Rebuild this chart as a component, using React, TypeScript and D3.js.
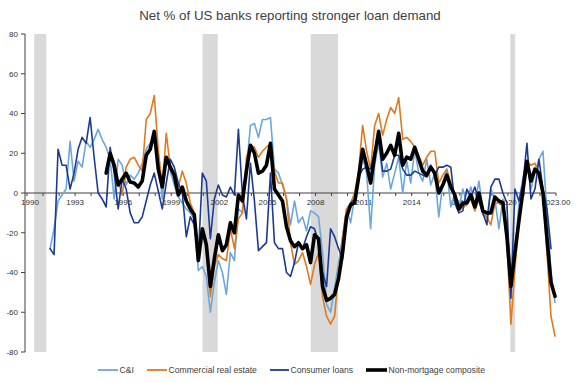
import React from "react";
import * as d3 from "d3";

const TITLE = "Net % of US banks reporting stronger loan demand";
const seriesNames = ["C&I", "Commercial real estate", "Consumer loans", "Non-mortgage composite"];
const seriesColors = ["#6AA8DC", "#E07A1F", "#1C3A94", "#000000"];
const yTickValues = [-80, -60, -40, -20, 0, 20, 40, 60, 80];
const xLabelYears = [1990, 1993, 1996, 1999, 2002, 2005, 2008, 2011, 2014, 2017, 2020, 2023];
const xLabelTexts = ["1990", "1993", "1996", "1999", "2002", "2005", "2008", "2011", "2014", "2017", "2020", "2023.00"];
const recessionStarts = [1990.45, 2000.95, 2007.7, 2020.15];
const recessionEnds = [1991.2, 2001.9, 2009.4, 2020.45];

// quarterly survey readings, net %
const ciStart = "1991Q2";
const ciValues = [
  -28, -18, -4, -1, 2, 26, 6, 16, 13, 26,
  23, 27, 32, 27, 23, 17, -3, 17, 14, 4,
  9, 7, 10, 15, 22, 25, 27, 18, -3, 18,
  11, 4, -2, -5, -8, -10, -13, -39, -37, -42,
  -60, -45, -34, -40, -51, -30, -34, -8, -10, 12,
  34, 35, 28, 37, 37, 38, 12, 10, 4, -3,
  -16, -4, -15, -12, -19, -9, -10, -12, -30, -56,
  -60, -48, -35, -22, -8, -15, -2, 5, 18, 10,
  -18, 14, 25, 8, 15, 2, 10, 18, 0, 16,
  5, 22, 10, 6, 17, 4, 10, -12, 5, 12,
  -7, 0, -8, 2, -5, 3, -6, 6, -8, -13,
  2, -3, -18, -3, -18, -38, -32, -5, 8, 15,
  2, 10, 17, 21, -10, -40, -55,
];
const creStart = "1994Q4";
const creValues = [
  12, 20, 13, 6, -1, 13, 17, 18, 14, 11,
  37, 40, 49, 22, 3, 30, 13, 8, 3, 11,
  5, -5, -10, -31, -20, -28, -52, -37, -31, -33,
  -34, -18, -28, -13, -10, 18, 24, 23, 18, 21,
  23, 25, 11, 5, 5, -3, -25, -36, -34, -30,
  -37, -46, -36, -30, -52, -62, -66, -62, -40, -22,
  -8, -5, 0, 11, 34, 21, 12, 34, 40, 29,
  37, 43, 40, 48, 27, 28, 26, 23, 19, 14,
  18, 21, 21, 5, 9, 12, 5, -3, -9, -7,
  -6, -3, -9, -3, -11, -12, -16, -5, -5, -4,
  -25, -66, -38, -15, 2, 16, 14, 15, 10, -1,
  -30, -62, -72,
];
const consumerStart = "1991Q2";
const consumerValues = [
  -28, -31, 22, 14, 14, 2, 10, 22, 28, 25,
  38, 18, 0, -3, -7, 23, 10, -8, 7, 2,
  -10, -15, -15, -12, -4, 4, 10, 1, -8, 5,
  17, 13, 5, 0, -22, -12, -16, -32, 10, 6,
  -23, -3, 4, -1, -2, 3, -1, 32, -1, -13,
  15, -4, -29, -27, -25, 10, -25, -28, -28, -40,
  -42, -35, -25, -28, -22, -17, -18, -25, -40, -47,
  -18, -22, -28, -33, -12, -5, -3, 8, 12, 13,
  12, 21, 27, 11, 11, 12, 19, 19, 12, 9,
  9, 11, 10, 9, 8, 14, 9, 13, 13, 14,
  13, -5, -10, -9, 2, -2, 3, -4, -10, -16,
  3, 7, 7, 0, -5, -53, 2, -4, 5, 25,
  -3, 2, 17, 2, -8, -28,
];
const compositeStart = "1994Q4";
const compositeValues = [
  10, 20, 14, 4, 7, 10, 5.5, 5, 3, 6,
  19, 22, 31, 12, 3, 18, 13, 9, -1, 3,
  -4, -8, -11, -34, -18, -26, -47, -33, -21, -29,
  -26, -15, -20, -1, -4, 11, 24, 20, 10, 11,
  14, 25, 2, -1, -4, -17, -24, -27, -25, -28,
  -26, -35, -21, -23, -47, -54, -53, -51, -43, -30,
  -12, -6, -5, 8, 22, 14, 5, 19, 31, 17,
  20, 24, 19, 30, 14, 18, 17, 23, 17, 11,
  9, 13, 10, 0, 4, 9, 3, -1, -8, -5,
  -5, -1, -7, 0, -9, -10, -10, -2, -4, -5,
  -22, -47, -30, -14, 1, 16, 6, 12, 10, 0,
  -23, -45, -52,
];

// readings are plotted late in each quarter
const PLOT_OFFSET = 0.1875;

function toSeries(start: string, values: number[]): [number, number][] {
  const [yr, q] = start.split("Q").map(Number);
  const base = yr + (q - 1) / 4 + PLOT_OFFSET;
  return values.map((v, i) => [base + i / 4, v]);
}

const W = 580;
const H = 383;
const L = 25, R = 556, T = 34, B = 352;

export default function App() {
  const x = d3.scaleLinear().domain([1989.875, 2023]).range([L, R]);
  const y = d3.scaleLinear().domain([-80, 80]).range([B, T]);
  const line = d3
    .line<[number, number]>()
    .x((d) => x(d[0]))
    .y((d) => y(d[1]));

  const data = [
    toSeries(ciStart, ciValues),
    toSeries(creStart, creValues),
    toSeries(consumerStart, consumerValues),
    toSeries(compositeStart, compositeValues),
  ];
  const widths = [1.6, 1.6, 1.6, 3.6];
  const y0 = y(0);
  const font = "'Liberation Sans', Arial, sans-serif";
  const years = d3.range(1990, 2024);
  const legendX = [98, 147, 270, 366];
  const legendLen = [20, 20, 19, 21];

  return (
    <svg
      width={W}
      height={H}
      style={{ position: "absolute", left: 0, top: 0, background: "#fff" }}
      fontFamily={font}
    >
      <rect x={0} y={0} width={W} height={H} fill="#fff" />
      <text x={290} y={20} textAnchor="middle" fontSize={13.3} fill="#404040">
        {TITLE}
      </text>
      {recessionStarts.map((s, i) => (
        <rect
          key={i}
          x={x(s)}
          y={T}
          width={x(recessionEnds[i]) - x(s)}
          height={B - T}
          fill="#D9D9D9"
        />
      ))}
      {/* y axis */}
      <line x1={L} x2={L} y1={T} y2={B} stroke="#404040" strokeWidth={1} />
      {yTickValues.map((v) => (
        <g key={v}>
          <line x1={L - 4} x2={L} y1={y(v)} y2={y(v)} stroke="#404040" strokeWidth={1} />
          <text x={18} y={y(v)} dy="0.35em" textAnchor="end" fontSize={8} fill="#333">
            {v}
          </text>
        </g>
      ))}
      {/* x axis */}
      <line x1={L} x2={R} y1={y0} y2={y0} stroke="#404040" strokeWidth={1} />
      {years.map((yr) => (
        <line key={yr} x1={x(yr)} x2={x(yr)} y1={y0} y2={y0 + 3} stroke="#404040" strokeWidth={1} />
      ))}
      {xLabelYears.map((yr, i) => (
        <text key={yr} x={x(yr) + (i === 0 ? 3 : 0)} y={205} textAnchor="middle" fontSize={8} fill="#333">
          {xLabelTexts[i]}
        </text>
      ))}
      {data.map((d, i) => (
        <path
          key={i}
          d={line(d) || ""}
          fill="none"
          stroke={seriesColors[i]}
          strokeWidth={widths[i]}
          strokeLinejoin="round"
          strokeLinecap="round"
        />
      ))}
      {seriesNames.map((n, i) => (
        <g key={n}>
          <line
            x1={legendX[i]}
            x2={legendX[i] + legendLen[i]}
            y1={370}
            y2={370}
            stroke={seriesColors[i]}
            strokeWidth={i === 3 ? 3.6 : 1.8}
          />
          <text x={legendX[i] + legendLen[i] + 1.5} y={370} dy="0.35em" fontSize={8.6} fill="#404040">
            {n}
          </text>
        </g>
      ))}
    </svg>
  );
}
